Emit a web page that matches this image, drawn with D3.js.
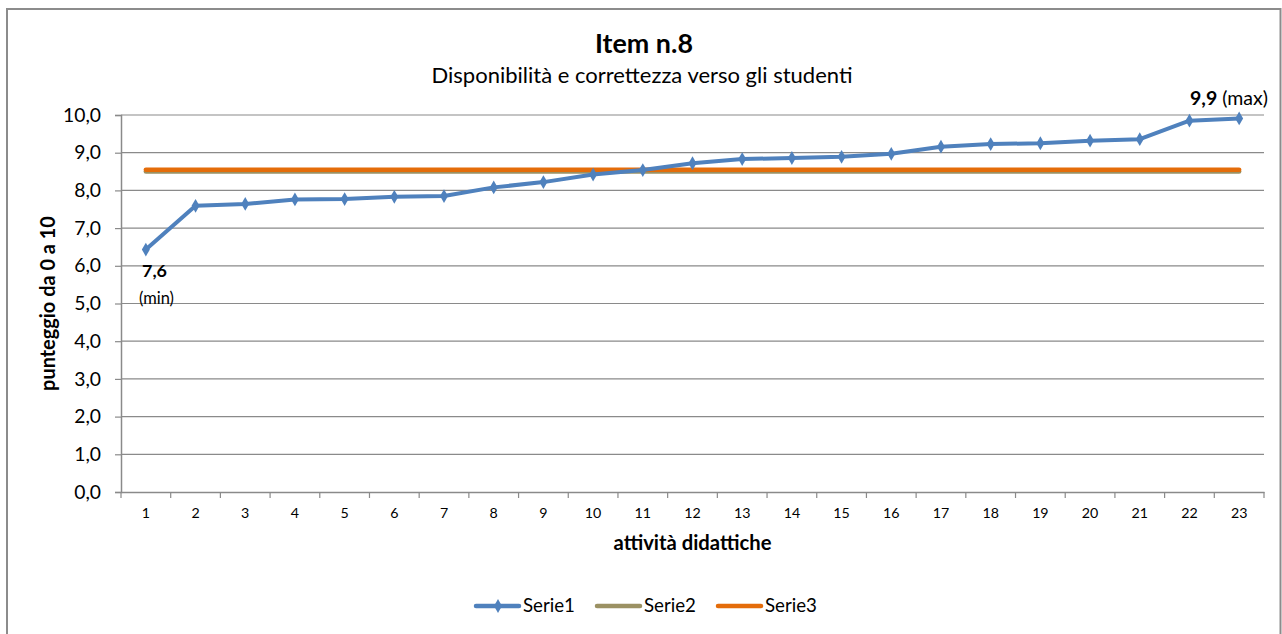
<!DOCTYPE html>
<html>
<head>
<meta charset="utf-8">
<script src="https://cdn.jsdelivr.net/npm/d3@7"></script>
<style>
  html, body { margin: 0; padding: 0; background: #fff; }
  svg { display: block; font-family: "Lato", "Open Sans", sans-serif; }
  text { font-family: "Lato", "Open Sans", sans-serif; }
</style>
</head>
<body>
<svg id="chart" width="1282" height="634"></svg>
<script>
const categories = d3.range(1, 24).map(String);
const serie1 = [6.43, 7.59, 7.64, 7.76, 7.77, 7.83, 7.85, 8.08, 8.22, 8.42, 8.54, 8.72, 8.83, 8.86, 8.89, 8.97, 9.16, 9.23, 9.25, 9.32, 9.36, 9.85, 9.91];
const serie2 = Array(23).fill(8.50);
const serie3 = Array(23).fill(8.55);
const yTicks = [0, 1, 2, 3, 4, 5, 6, 7, 8, 9, 10];
const seriesNames = ["Serie1", "Serie2", "Serie3"];
const seriesColors = ["#4F81BD", "#9B9163", "#E46C0A"];

const svg = d3.select("#chart");

// fit a text element's font size so that its rendered width matches a target width
function fit(sel, target) {
  const n = sel.node();
  const fs = parseFloat(sel.attr("font-size"));
  const w = n.getComputedTextLength();
  if (w > 0) sel.attr("font-size", (fs * target / w).toFixed(2));
  return sel;
}

// outer chart border
svg.append("rect").attr("x", 7).attr("y", 9).attr("width", 1273.5).attr("height", 640)
  .attr("fill", "#fff").attr("stroke", "#8c8c8c").attr("stroke-width", 2);

const pLeft = 121, pRight = 1264, pTop = 115, pBottom = 492;
const x = d3.scaleBand().domain(categories).range([pLeft, pRight]);
const y = d3.scaleLinear().domain([0, 10]).range([pBottom, pTop]);
const cx = c => x(c) + x.bandwidth() / 2;

// gridlines
svg.append("g").selectAll("line").data(yTicks.filter(t => t > 0)).join("line")
  .attr("x1", pLeft).attr("x2", pRight)
  .attr("y1", d => y(d)).attr("y2", d => y(d))
  .attr("stroke", "#8a8a8a").attr("stroke-width", 1.2);

// y axis
const yAxis = d3.axisLeft(y).tickValues(yTicks).tickSize(6)
  .tickFormat(d => d3.format(".1f")(d).replace(".", ","));
const gy = svg.append("g").attr("transform", `translate(${pLeft},0)`).call(yAxis);
gy.attr("font-family", null);
gy.select(".domain").attr("stroke", "#8a8a8a").attr("stroke-width", 1.5);
gy.selectAll(".tick line").attr("stroke", "#8a8a8a").attr("stroke-width", 1.2);
const yLabs = gy.selectAll(".tick text").attr("font-size", 15).attr("fill", "#000").attr("x", -20);
{
  const t10 = yLabs.filter(d => d === 10);
  const fs = 15 * 38 / t10.node().getComputedTextLength();
  yLabs.attr("font-size", fs.toFixed(2));
}

// x axis
const xAxis = d3.axisBottom(x).tickSize(0).tickPadding(0);
const gx = svg.append("g").attr("transform", `translate(0,${pBottom})`).call(xAxis);
gx.attr("font-family", null);
gx.select(".domain").attr("stroke", "#8a8a8a").attr("stroke-width", 1.5);
const xLabs = gx.selectAll(".tick text").attr("font-size", 13).attr("fill", "#000")
  .attr("dy", null).attr("y", 26);
{
  const t22 = xLabs.filter(d => d === "22");
  const fs = 13 * 16.5 / t22.node().getComputedTextLength();
  xLabs.attr("font-size", fs.toFixed(2));
}
// boundary ticks
svg.append("g").selectAll("line").data(d3.range(0, categories.length + 1)).join("line")
  .attr("x1", i => pLeft + i * x.step()).attr("x2", i => pLeft + i * x.step())
  .attr("y1", pBottom).attr("y2", pBottom + 6)
  .attr("stroke", "#8a8a8a").attr("stroke-width", 1.2);

// lines
const line = d3.line().x((d, i) => cx(categories[i])).y(d => y(d));
[serie2, serie3].forEach((s, k) => {
  svg.append("path").datum(s).attr("d", line).attr("fill", "none")
    .attr("stroke", seriesColors[k + 1]).attr("stroke-width", 4.5).attr("stroke-linecap", "round");
});
svg.append("path").datum(serie1).attr("d", line).attr("fill", "none")
  .attr("stroke", seriesColors[0]).attr("stroke-width", 4).attr("stroke-linejoin", "round");
const diamond = d3.symbol().type(d3.symbolDiamond).size(55);
svg.append("g").selectAll("path").data(serie1).join("path")
  .attr("d", diamond)
  .attr("transform", (d, i) => `translate(${cx(categories[i])},${y(d)})`)
  .attr("fill", seriesColors[0]);

// annotations
fit(svg.append("text").attr("x", 142).attr("y", 277).attr("font-size", 15).attr("font-weight", "bold").text("7,6"), 25);
fit(svg.append("text").attr("x", 139).attr("y", 304).attr("font-size", 12).text("(min)"), 35);
const maxT = svg.append("text").attr("x", 1190).attr("y", 105).attr("font-size", 15);
maxT.append("tspan").attr("font-weight", "bold").text("9,9");
maxT.append("tspan").text(" (max)");
fit(maxT, 78);

// titles
fit(svg.append("text").attr("x", 644).attr("y", 53).attr("text-anchor", "middle")
  .attr("font-size", 21).attr("font-weight", "bold").text("Item n.8"), 98);
fit(svg.append("text").attr("x", 642).attr("y", 83).attr("text-anchor", "middle")
  .attr("font-size", 16).text("Disponibilità e correttezza verso gli studenti"), 421);
fit(svg.append("text").attr("x", (pLeft + pRight) / 2).attr("y", 550).attr("text-anchor", "middle")
  .attr("font-size", 15).attr("font-weight", "bold").text("attività didattiche"), 158);
fit(svg.append("text").attr("transform", `translate(55,${(pTop + pBottom) / 2}) rotate(-90)`)
  .attr("text-anchor", "middle").attr("font-size", 15).attr("font-weight", "bold").text("punteggio da 0 a 10"), 175);

// legend
const legendX = [476, 597, 718];
const lg = svg.append("g");
seriesNames.forEach((n, i) => {
  lg.append("line").attr("x1", legendX[i]).attr("x2", legendX[i] + 43)
    .attr("y1", 606).attr("y2", 606).attr("stroke", seriesColors[i]).attr("stroke-width", 4.5)
    .attr("stroke-linecap", "round");
  if (i === 0) lg.append("path").attr("d", diamond).attr("transform", `translate(${legendX[i] + 22},606)`).attr("fill", seriesColors[0]);
  fit(lg.append("text").attr("x", legendX[i] + 47).attr("y", 611.5).attr("font-size", 15).text(n), 52);
});
</script>
</body>
</html>
